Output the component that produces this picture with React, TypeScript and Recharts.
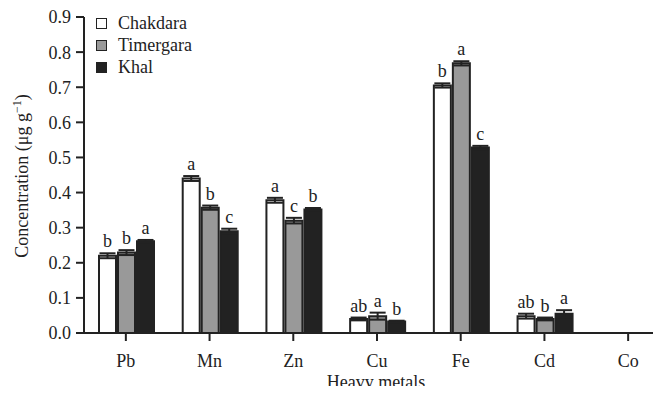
import React from 'react'
import { Bar, BarChart, ErrorBar, LabelList, XAxis, YAxis } from 'recharts'

const metals = ['Pb', 'Mn', 'Zn', 'Cu', 'Fe', 'Cd', 'Co']

const chakdara = [0.22, 0.44, 0.378, 0.04, 0.705, 0.048, 0]
const timergara = [0.229, 0.357, 0.32, 0.048, 0.768, 0.04, 0]
const khal = [0.261, 0.29, 0.352, 0.033, 0.528, 0.055, 0]

const chakdaraErr = [0.007, 0.007, 0.007, 0.004, 0.006, 0.007, 0]
const timergaraErr = [0.007, 0.006, 0.008, 0.01, 0.006, 0.004, 0]
const khalErr = [0.004, 0.007, 0.004, 0.002, 0.005, 0.01, 0]

const chakdaraLetters = ['b', 'a', 'a', 'ab', 'b', 'ab', '']
const timergaraLetters = ['b', 'b', 'c', 'a', 'a', 'b', '']
const khalLetters = ['a', 'c', 'b', 'b', 'c', 'a', '']

const yTicks = [0, 0.1, 0.2, 0.3, 0.4, 0.5, 0.6, 0.7, 0.8, 0.9]

const series = [
  { key: 'chakdara', name: 'Chakdara', fill: '#ffffff', err: 'chakdaraErr', letters: chakdaraLetters, errs: chakdaraErr },
  { key: 'timergara', name: 'Timergara', fill: '#999999', err: 'timergaraErr', letters: timergaraLetters, errs: timergaraErr },
  { key: 'khal', name: 'Khal', fill: '#222222', err: 'khalErr', letters: khalLetters, errs: khalErr }
]

const data = metals.map((m, i) => ({
  metal: m,
  chakdara: chakdara[i],
  timergara: timergara[i],
  khal: khal[i],
  chakdaraErr: chakdaraErr[i],
  timergaraErr: timergaraErr[i],
  khalErr: khalErr[i]
}))

const FONT = '"Liberation Serif", "DejaVu Serif", serif'
const INK = '#222222'

const letterLabel = (letters: string[], errs: number[]) => (props: any) => {
  const { x, y, width, height, value, index } = props
  const text = letters[index]
  if (!text || !value) return null
  const errPx = (height / value) * errs[index]
  return (
    <text
      x={x + width / 2}
      y={y - errPx - 6}
      textAnchor="middle"
      fontFamily={FONT}
      fontSize={18}
      fill={INK}
    >
      {text}
    </text>
  )
}

// legend drawn as an overlay so it doesn't shift the plot area
const LegendBox = () => (
  <div
    style={{
      position: 'absolute',
      left: 96,
      top: 12,
      fontFamily: FONT,
      fontSize: 18,
      color: INK,
      lineHeight: '22px'
    }}
  >
    {series.map((s) => (
      <div key={s.key} style={{ display: 'flex', alignItems: 'center' }}>
        <span
          style={{
            display: 'inline-block',
            boxSizing: 'border-box',
            width: 11,
            height: 11,
            background: s.fill,
            border: `1.5px solid ${INK}`,
            marginRight: 11
          }}
        />
        {s.name}
      </div>
    ))}
  </div>
)

const YLabel = () => (
  <text
    transform="translate(28, 176) rotate(-90)"
    textAnchor="middle"
    fontFamily={FONT}
    fontSize={18}
    fill={INK}
  >
    Concentration (μg g
    <tspan dy={-7} fontSize={12}>
      −1
    </tspan>
    <tspan dy={7}>)</tspan>
  </text>
)

const XLabel = (props: any) => {
  const { viewBox } = props
  return (
    <text
      x={viewBox.x + viewBox.width / 2 - 1}
      y={viewBox.y + viewBox.height + 15}
      textAnchor="middle"
      fontFamily={FONT}
      fontSize={18}
      fill={INK}
    >
      Heavy metals
    </text>
  )
}

export default function App() {
  return (
    <div
      style={{ position: 'relative', margin: -8, width: 661, height: 394, overflow: 'hidden', background: '#fff' }}
    >
      <BarChart
        width={672}
        height={394}
        data={data}
        margin={{ top: 17, right: 2, bottom: 21, left: 0 }}
        barCategoryGap={15}
        barGap={2}
      >
        <XAxis
          dataKey="metal"
          height={40}
          tick={{ fill: INK, fontSize: 18, fontFamily: FONT }}
          tickMargin={13}
          tickSize={8}
          axisLine={{ stroke: INK, strokeWidth: 2 }}
          tickLine={{ stroke: INK, strokeWidth: 2 }}
          label={<XLabel />}
        />
        <YAxis
          width={84}
          domain={[0, 0.9]}
          ticks={yTicks}
          interval={0}
          tickFormatter={(v: number) => v.toFixed(1)}
          tick={{ fill: INK, fontSize: 18, fontFamily: FONT }}
          tickSize={8}
          tickMargin={5}
          axisLine={{ stroke: INK, strokeWidth: 2 }}
          tickLine={{ stroke: INK, strokeWidth: 2 }}
          label={<YLabel />}
        />
        {series.map((s) => (
          <Bar
            key={s.key}
            dataKey={s.key}
            name={s.name}
            fill={s.fill}
            stroke={INK}
            strokeWidth={2}
            isAnimationActive={false}
          >
            <ErrorBar dataKey={s.err} width={8} stroke={INK} strokeWidth={2} direction="y" />
            <LabelList dataKey={s.key} content={letterLabel(s.letters, s.errs)} />
          </Bar>
        ))}
      </BarChart>
      <LegendBox />
    </div>
  )
}
